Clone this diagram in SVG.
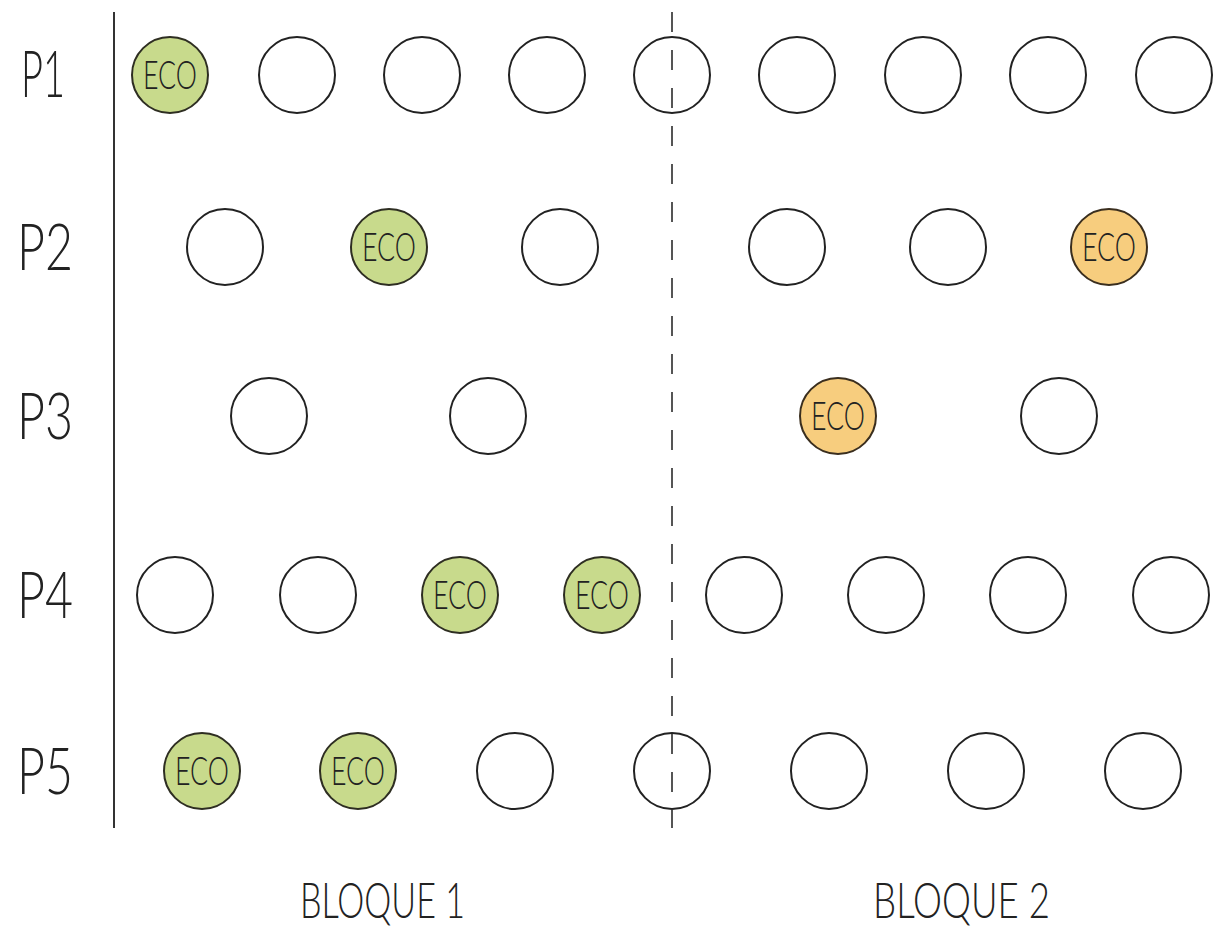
<svg xmlns="http://www.w3.org/2000/svg" width="1224" height="930" viewBox="0 0 1224 930">
<style>
.c{fill:#ffffff;stroke:#222;stroke-width:2}
.g{fill:#c8da8c;stroke:#2e2e22;stroke-width:2}
.o{fill:#f7cd7e;stroke:#3a2e1e;stroke-width:2}
.e{font-family:"Lato","Liberation Sans",Arial,sans-serif;font-weight:300;font-size:40px;fill:#222;text-anchor:middle}
.lab{font-family:"Lato","Liberation Sans",Arial,sans-serif;font-weight:300;font-size:66px;fill:#222}
.blk{font-family:"Lato","Liberation Sans",Arial,sans-serif;font-weight:300;font-size:50px;fill:#222}
</style>
<rect width="1224" height="930" fill="#ffffff"/>
<g id="connectors">
<line x1="114" y1="12" x2="114" y2="828" stroke="#333" stroke-width="2"/>
<line x1="672" y1="12" x2="672" y2="828" stroke="#555" stroke-width="2" stroke-dasharray="20 18"/>
</g>
<g id="labels">
<text class="lab" x="21" y="97" textLength="44" lengthAdjust="spacingAndGlyphs">P1</text>
<text class="lab" x="17" y="270" textLength="56" lengthAdjust="spacingAndGlyphs">P2</text>
<text class="lab" x="17" y="439" textLength="56" lengthAdjust="spacingAndGlyphs">P3</text>
<text class="lab" x="17" y="618" textLength="56" lengthAdjust="spacingAndGlyphs">P4</text>
<text class="lab" x="17" y="794" textLength="56" lengthAdjust="spacingAndGlyphs">P5</text>
<text class="blk" x="300" y="918" textLength="165" lengthAdjust="spacingAndGlyphs">BLOQUE 1</text>
<text class="blk" x="873" y="918" textLength="177" lengthAdjust="spacingAndGlyphs">BLOQUE 2</text>
</g>
<g id="row-p1">
<g id="p1-1"><circle class="g" cx="170" cy="75" r="38"/><text class="e" x="170" y="89" textLength="54" lengthAdjust="spacingAndGlyphs">ECO</text></g>
<g id="p1-2"><circle class="c" cx="297" cy="75" r="38"/></g>
<g id="p1-3"><circle class="c" cx="422" cy="75" r="38"/></g>
<g id="p1-4"><circle class="c" cx="547" cy="75" r="38"/></g>
<g id="p1-5"><circle class="c" cx="672" cy="75" r="38" fill-opacity="0"/></g>
<g id="p1-6"><circle class="c" cx="797" cy="75" r="38"/></g>
<g id="p1-7"><circle class="c" cx="923" cy="75" r="38"/></g>
<g id="p1-8"><circle class="c" cx="1048" cy="75" r="38"/></g>
<g id="p1-9"><circle class="c" cx="1174" cy="75" r="38"/></g>
</g>
<g id="row-p2">
<g id="p2-1"><circle class="c" cx="225" cy="247" r="38"/></g>
<g id="p2-2"><circle class="g" cx="389" cy="247" r="38"/><text class="e" x="389" y="261" textLength="54" lengthAdjust="spacingAndGlyphs">ECO</text></g>
<g id="p2-3"><circle class="c" cx="560" cy="247" r="38"/></g>
<g id="p2-4"><circle class="c" cx="787" cy="247" r="38"/></g>
<g id="p2-5"><circle class="c" cx="948" cy="247" r="38"/></g>
<g id="p2-6"><circle class="o" cx="1109" cy="247" r="38"/><text class="e" x="1109" y="261" textLength="54" lengthAdjust="spacingAndGlyphs">ECO</text></g>
</g>
<g id="row-p3">
<g id="p3-1"><circle class="c" cx="269" cy="416" r="38"/></g>
<g id="p3-2"><circle class="c" cx="488" cy="416" r="38"/></g>
<g id="p3-3"><circle class="o" cx="838" cy="416" r="38"/><text class="e" x="838" y="430" textLength="54" lengthAdjust="spacingAndGlyphs">ECO</text></g>
<g id="p3-4"><circle class="c" cx="1059" cy="416" r="38"/></g>
</g>
<g id="row-p4">
<g id="p4-1"><circle class="c" cx="175" cy="595" r="38"/></g>
<g id="p4-2"><circle class="c" cx="318" cy="595" r="38"/></g>
<g id="p4-3"><circle class="g" cx="460" cy="595" r="38"/><text class="e" x="460" y="609" textLength="54" lengthAdjust="spacingAndGlyphs">ECO</text></g>
<g id="p4-4"><circle class="g" cx="602" cy="595" r="38"/><text class="e" x="602" y="609" textLength="54" lengthAdjust="spacingAndGlyphs">ECO</text></g>
<g id="p4-5"><circle class="c" cx="744" cy="595" r="38"/></g>
<g id="p4-6"><circle class="c" cx="886" cy="595" r="38"/></g>
<g id="p4-7"><circle class="c" cx="1028" cy="595" r="38"/></g>
<g id="p4-8"><circle class="c" cx="1171" cy="595" r="38"/></g>
</g>
<g id="row-p5">
<g id="p5-1"><circle class="g" cx="202" cy="771" r="38"/><text class="e" x="202" y="785" textLength="54" lengthAdjust="spacingAndGlyphs">ECO</text></g>
<g id="p5-2"><circle class="g" cx="358" cy="771" r="38"/><text class="e" x="358" y="785" textLength="54" lengthAdjust="spacingAndGlyphs">ECO</text></g>
<g id="p5-3"><circle class="c" cx="515" cy="771" r="38"/></g>
<g id="p5-4"><circle class="c" cx="672" cy="771" r="38" fill-opacity="0"/></g>
<g id="p5-5"><circle class="c" cx="829" cy="771" r="38"/></g>
<g id="p5-6"><circle class="c" cx="986" cy="771" r="38"/></g>
<g id="p5-7"><circle class="c" cx="1143" cy="771" r="38"/></g>
</g>
</svg>
